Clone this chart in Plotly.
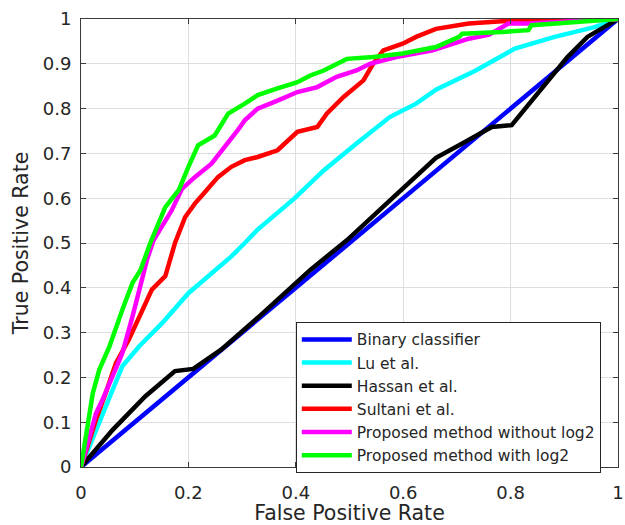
import plotly.graph_objects as go

# ---- data ----
binary_x = [0, 1]
binary_y = [0, 1]

lu_x = [0, 0.077, 0.108, 0.151, 0.2, 0.243, 0.28, 0.305, 0.329, 0.397, 0.452, 0.513,
        0.575, 0.624, 0.661, 0.735, 0.808, 0.882, 0.956, 1]
lu_y = [0, 0.225, 0.269, 0.321, 0.388, 0.433, 0.47, 0.5, 0.53, 0.599, 0.662, 0.722,
        0.781, 0.811, 0.842, 0.885, 0.934, 0.96, 0.982, 1]

hassan_x = [0, 0.059, 0.12, 0.175, 0.209, 0.261, 0.329, 0.427, 0.495, 0.661, 0.71,
            0.765, 0.802, 0.864, 0.906, 0.943, 1]
hassan_y = [0, 0.083, 0.158, 0.214, 0.219, 0.262, 0.333, 0.44, 0.506, 0.69, 0.722,
            0.759, 0.763, 0.856, 0.915, 0.96, 1]

sultani_x = [0, 0.028, 0.046, 0.065, 0.089, 0.108, 0.132, 0.157, 0.166, 0.175, 0.194,
             0.212, 0.231, 0.255, 0.28, 0.305, 0.329, 0.366, 0.403, 0.44, 0.458, 0.489,
             0.526, 0.544, 0.563, 0.599, 0.624, 0.661, 0.722, 0.784, 0.906, 1]
sultani_y = [0, 0.106, 0.165, 0.232, 0.284, 0.336, 0.396, 0.426, 0.463, 0.5, 0.558,
             0.588, 0.614, 0.647, 0.67, 0.685, 0.692, 0.707, 0.748, 0.759, 0.789, 0.826,
             0.863, 0.9, 0.93, 0.945, 0.96, 0.978, 0.99, 0.995, 1.0, 1]

nolog_x = [0, 0.028, 0.04, 0.059, 0.077, 0.096, 0.111, 0.123, 0.135, 0.169, 0.188,
           0.212, 0.243, 0.274, 0.292, 0.305, 0.329, 0.366, 0.403, 0.44, 0.476, 0.513,
           0.538, 0.587, 0.624, 0.655, 0.722, 0.76, 0.796, 0.832, 1]
nolog_y = [0, 0.12, 0.15, 0.202, 0.254, 0.336, 0.403, 0.463, 0.506, 0.573, 0.621,
           0.647, 0.677, 0.722, 0.752, 0.774, 0.8, 0.818, 0.837, 0.848, 0.871, 0.885,
           0.9, 0.915, 0.922, 0.93, 0.956, 0.965, 0.99, 0.99, 1]

log_x = [0, 0.022, 0.034, 0.053, 0.077, 0.096, 0.111, 0.129, 0.157, 0.182, 0.2, 0.218,
         0.249, 0.261, 0.274, 0.305, 0.329, 0.366, 0.403, 0.427, 0.452, 0.495, 0.544,
         0.599, 0.661, 0.704, 0.71, 0.784, 0.833, 0.839, 0.906, 0.993, 1]
log_y = [0, 0.165, 0.217, 0.269, 0.351, 0.411, 0.44, 0.5, 0.58, 0.618, 0.67, 0.718,
         0.74, 0.766, 0.789, 0.811, 0.83, 0.845, 0.859, 0.874, 0.885, 0.911, 0.915,
         0.923, 0.9375, 0.96, 0.967, 0.971, 0.975, 0.986, 0.991, 0.997, 1]

tick_vals = [0, 0.1, 0.2, 0.3, 0.4, 0.5, 0.6, 0.7, 0.8, 0.9, 1]
x_tick_vals = [0, 0.2, 0.4, 0.6, 0.8, 1]
tick_text = ["0", "0.1", "0.2", "0.3", "0.4", "0.5", "0.6", "0.7", "0.8", "0.9", "1"]
x_tick_text = ["0", "0.2", "0.4", "0.6", "0.8", "1"]

series = [
    ("Binary classifier", binary_x, binary_y, "#0000ff"),
    ("Lu et al.", lu_x, lu_y, "#00ffff"),
    ("Hassan et al.", hassan_x, hassan_y, "#000000"),
    ("Sultani et al.", sultani_x, sultani_y, "#ff0000"),
    ("Proposed method without log2", nolog_x, nolog_y, "#ff00ff"),
    ("Proposed method with log2", log_x, log_y, "#00ff00"),
]

FONT = "DejaVu Sans"
fig = go.Figure()
for name, xs, ys, col in series:
    fig.add_trace(go.Scatter(x=xs, y=ys, mode="lines", name=name,
                             line=dict(color=col, width=4.5)))

axis_common = dict(
    showgrid=True, gridcolor="#dedede", gridwidth=1,
    showline=True, linecolor="#3a3a3a", linewidth=1, mirror="ticks",
    ticks="inside", ticklen=5, tickcolor="#3a3a3a", tickwidth=1,
    zeroline=False, ticklabeloverflow="allow",
    tickfont=dict(family=FONT, size=18, color="#262626"),
    range=[0, 1], fixedrange=True,
)

fig.update_layout(
    width=625, height=525,
    margin=dict(l=81, r=7, t=19, b=58, autoexpand=False),
    paper_bgcolor="white", plot_bgcolor="white",
    font=dict(family=FONT, color="#262626"),
    xaxis=dict(axis_common, tickvals=x_tick_vals, ticktext=x_tick_text,
               ticklabelstandoff=9,
               title=dict(text="False Positive Rate", standoff=4,
                          font=dict(family=FONT, size=20.5, color="#262626"))),
    yaxis=dict(axis_common, tickvals=tick_vals, ticktext=tick_text,
               ticklabelstandoff=5,
               title=dict(text="True Positive Rate", standoff=8,
                          font=dict(family=FONT, size=20.5, color="#262626"))),
    legend=dict(x=0.4, y=0.324, xanchor="left", yanchor="top",
                bgcolor="white", bordercolor="#262626", borderwidth=1,
                font=dict(family=FONT, size=15.5, color="#262626"),
                itemwidth=50, tracegroupgap=0),
    showlegend=True,
)

fig.write_html("out.html",
               config={"displayModeBar": False},
               post_script="document.body.style.margin='0';document.body.style.padding='0';")
